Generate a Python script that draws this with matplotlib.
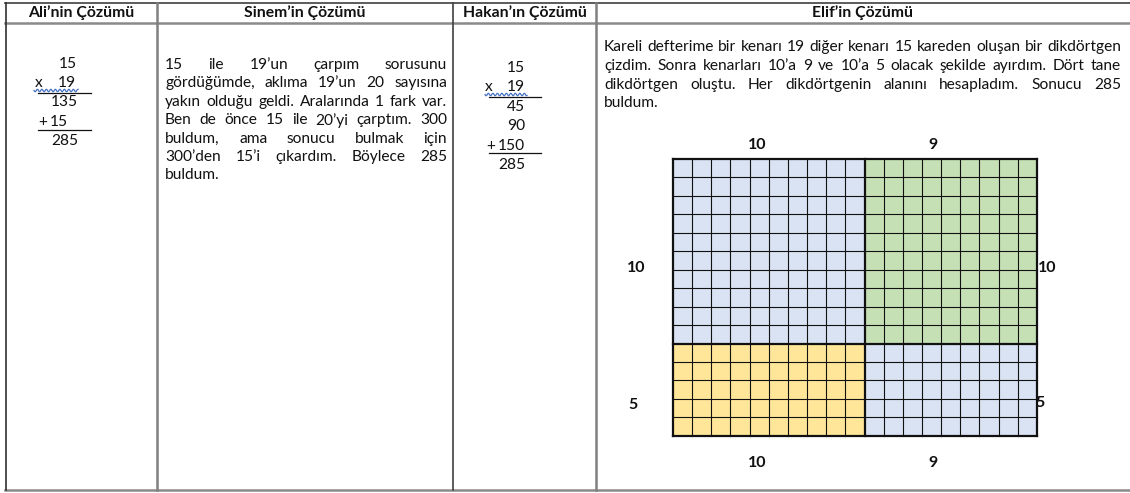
import numpy as np
import matplotlib.pyplot as plt
from matplotlib.patches import Rectangle

plt.rcParams['font.family'] = ['Lato', 'DejaVu Sans']

# Table content
headers = ["Ali’nin Çözümü", "Sinem’in Çözümü", "Hakan’ın Çözümü", "Elif’in Çözümü"]
col_edges = [6, 157, 453, 596, 1130]

ali_signs = ["", "x", "", "+", ""]
ali_nums = ["15", "19", "135", "15", "285"]
hakan_signs = ["", "x", "", "", "+", ""]
hakan_nums = ["15", "19", "45", "90", "150", "285"]

sinem_lines = [
    "15 ile 19’un çarpım sorusunu",
    "gördüğümde, aklıma 19’un 20 sayısına",
    "yakın olduğu geldi. Aralarında 1 fark var.",
    "Ben de önce 15 ile 20’yi çarptım. 300",
    "buldum, ama sonucu bulmak için",
    "300’den 15’i çıkardım. Böylece 285",
    "buldum.",
]
elif_lines = [
    "Kareli defterime bir kenarı 19 diğer kenarı 15 kareden oluşan bir dikdörtgen",
    "çizdim. Sonra kenarları 10’a 9 ve 10’a 5 olacak şekilde ayırdım. Dört tane",
    "dikdörtgen oluştu. Her dikdörtgenin alanını hesapladım.  Sonucu 285",
    "buldum.",
]

# grid split: columns 10 + 9, rows 10 + 5
col_parts = [10, 9]
row_parts = [10, 5]
block_colors = [["#DAE3F3", "#C5E0B4"], ["#FFE699", "#DAE3F3"]]

BODY = 11.2
INK = "#111111"

fig = plt.figure(figsize=(11.3, 4.93), dpi=100)
ax = fig.add_axes([0, 0, 1, 1])
ax.set_xlim(0, 1130)
ax.set_ylim(493, 0)
ax.axis('off')
r = fig.canvas.get_renderer()

# table lines
ax.plot([5, 1130], [3, 3], color="#404040", lw=1.2)
ax.plot([5, 1130], [23, 23], color="#8a8a8a", lw=1.8)
ax.plot([5, 1130], [490, 490], color="#8a8a8a", lw=1.8)
ax.plot([6, 6], [3, 490], color="#303030", lw=1.2)
ax.plot([157, 157], [3, 490], color="#808080", lw=1.8)
ax.plot([453, 453], [3, 490], color="#404040", lw=1.2)
ax.plot([596, 596], [3, 490], color="#808080", lw=1.8)

for i, h in enumerate(headers):
    xc = (col_edges[i] + col_edges[i + 1]) / 2
    ax.text(xc, 13, h, ha='center', va='center', fontsize=11.3, fontweight='bold', color=INK)


def justify(lines, x0, x1, y0, dy, size=BODY):
    for i, line in enumerate(lines):
        words = line.split()
        y = y0 + i * dy
        texts = [ax.text(0, y, w, fontsize=size, va='center', color=INK) for w in words]
        widths = [t.get_window_extent(r).width for t in texts]
        if i == len(lines) - 1 or len(words) == 1:
            gap = size * 0.35
        else:
            gap = (x1 - x0 - sum(widths)) / (len(words) - 1)
        x = x0
        for t, w in zip(texts, widths):
            t.set_x(x)
            x += w + gap


justify(sinem_lines, 165, 447, 65, 18.4)
justify(elif_lines, 604, 1121, 47, 18.8)


def wavy(x0, x1, y):
    xs = np.linspace(x0, x1, 120)
    ax.plot(xs, y + 1.2 * np.sin((xs - x0) * 2 * np.pi / 4.5), color="#4472C4", lw=0.9)


def column_sum(signs, nums, sign_x, num_right, y0, dy, lines_at, line_x, wave):
    for i, (s, n) in enumerate(zip(signs, nums)):
        y = y0 + i * dy
        if s:
            ax.text(sign_x[i], y, s, fontsize=BODY, va='center', color=INK)
        ax.text(num_right[i], y, n, fontsize=BODY, va='center', ha='right', color=INK)
    for ly in lines_at:
        ax.plot(line_x, [ly, ly], color=INK, lw=0.9)
    wavy(*wave)


column_sum(ali_signs, ali_nums, [0, 35, 0, 38, 0], [77, 76, 78, 68, 78], 64, 19.2,
           [93, 130], [38, 91], (34, 78, 90.5))
column_sum(hakan_signs, hakan_nums, [0, 485, 0, 0, 486, 0], [525] * 6, 68, 19.4,
           [97, 153], [489, 541], (485, 527, 94.5))

# Elif's grid
gx0, gy0 = 673, 159
cw, ch = 19.15, 18.45
xb = np.concatenate([[0], np.cumsum(col_parts)])
yb = np.concatenate([[0], np.cumsum(row_parts)])
for ri in range(len(row_parts)):
    for ci in range(len(col_parts)):
        ax.add_patch(Rectangle((gx0 + xb[ci] * cw, gy0 + yb[ri] * ch),
                               col_parts[ci] * cw, row_parts[ri] * ch,
                               facecolor=block_colors[ri][ci], edgecolor='none'))
nx, ny = xb[-1], yb[-1]
for k in range(nx + 1):
    ax.plot([gx0 + k * cw] * 2, [gy0, gy0 + ny * ch], color="#111111",
            lw=1.6 if k in xb else 0.8)
for k in range(ny + 1):
    ax.plot([gx0, gx0 + nx * cw], [gy0 + k * ch] * 2, color="#111111",
            lw=1.6 if k in yb else 0.8)

# side labels (placed where the student wrote them)
lab = dict(fontsize=11.5, fontweight='bold', ha='center', va='center', color=INK)
top_x = [757, 933]
for p, xc in zip(col_parts, top_x):
    ax.text(xc, 145, str(p), **lab)
    ax.text(xc, 463, str(p), **lab)
left_pos = [(636, 268), (633, 405)]
right_pos = [(1047, 268), (1040, 403)]
for p, (lx, ly), (rx, ry) in zip(row_parts, left_pos, right_pos):
    ax.text(lx, ly, str(p), **lab)
    ax.text(rx, ry, str(p), **lab)

fig.savefig("out.png", dpi=100)
